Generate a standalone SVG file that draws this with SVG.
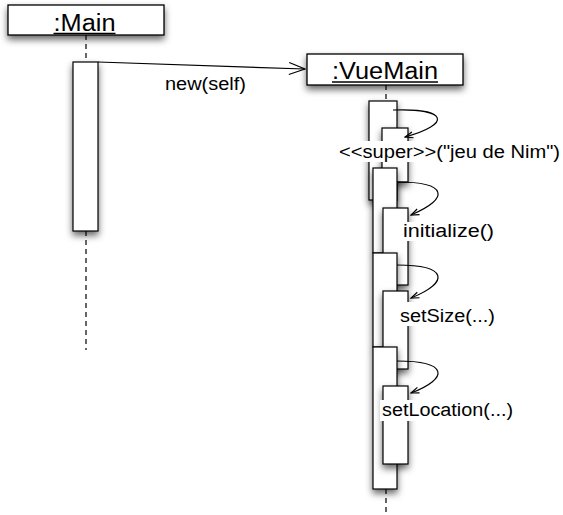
<svg xmlns="http://www.w3.org/2000/svg" width="563" height="515" viewBox="0 0 563 515">
<style>
.box{fill:#fff;stroke:#000;stroke-width:1.3}
.act{fill:#fff;stroke:#000;stroke-width:1.2}
.life{stroke:#000;stroke-width:1.2;stroke-dasharray:5 4;fill:none}
.conn{fill:none;stroke:#000;stroke-width:1.2}
.hdr{font-family:"Liberation Sans",Arial,sans-serif;font-size:23px;fill:#000}
.lbl{font-family:"Liberation Sans",Arial,sans-serif;font-size:18px;fill:#000}
.ul{stroke:#000;stroke-width:1.3}
.bg{fill:#fff}
</style>
<defs>
<filter id="sh" x="-50%" y="-50%" width="200%" height="200%">
<feDropShadow dx="0" dy="4" stdDeviation="3.5" flood-color="#000" flood-opacity="0.6"/>
</filter>
<marker id="open" viewBox="0 0 18 14" refX="17" refY="7" markerWidth="18" markerHeight="14" markerUnits="userSpaceOnUse" orient="auto">
<path d="M1,1 L17,7 L1,13" fill="none" stroke="#000" stroke-width="1.2"/>
</marker>
<marker id="small" viewBox="0 0 10 8" refX="9" refY="4" markerWidth="10" markerHeight="8" markerUnits="userSpaceOnUse" orient="auto">
<path d="M1,1 L9,4 L1,7" fill="none" stroke="#000" stroke-width="1.2"/>
</marker>
</defs>

<g id="main">
<line class="life" x1="86" y1="35" x2="86" y2="62"/>
<line class="life" x1="86" y1="231" x2="86" y2="350"/>
<rect class="box" x="8" y="5" width="156" height="30" filter="url(#sh)"/>
<text class="hdr" x="53.5" y="31" textLength="62" lengthAdjust="spacingAndGlyphs">:Main</text>
<line class="ul" x1="53.5" y1="33.5" x2="115.5" y2="33.5"/>
<rect id="main-act" class="act" x="73" y="62" width="25" height="169" filter="url(#sh)"/>
</g>

<g id="vuemain">
<line class="life" x1="386" y1="85" x2="386" y2="101"/>
<line class="life" x1="386" y1="489" x2="386" y2="515"/>
<rect class="box" x="307" y="54" width="156" height="31" filter="url(#sh)"/>
<text class="hdr" x="332" y="79" textLength="106" lengthAdjust="spacingAndGlyphs">:VueMain</text>
<line class="ul" x1="332" y1="82" x2="438" y2="82"/>
</g>

<g id="activations">
<rect id="actA" class="act" x="369" y="101" width="28" height="99" filter="url(#sh)"/>
<rect id="actB" class="act" x="382" y="128" width="26" height="54" filter="url(#sh)"/>
<rect id="actC" class="act" x="373" y="168" width="24" height="85" filter="url(#sh)"/>
<rect id="actD" class="act" x="383" y="208" width="25" height="77" filter="url(#sh)"/>
<rect id="actE" class="act" x="373" y="253" width="24" height="94" filter="url(#sh)"/>
<rect id="actG" class="act" x="383" y="291" width="25" height="78" filter="url(#sh)"/>
<rect id="actF" class="act" x="373" y="347" width="24" height="142" filter="url(#sh)"/>
<rect id="actH" class="act" x="383" y="386" width="25" height="78" filter="url(#sh)"/>
</g>

<g id="connectors">
<path class="conn" d="M98,62 L305,69" marker-end="url(#open)"/>
<path class="conn" d="M393,110 C448,108 452,124 405,137" marker-end="url(#small)"/>
<path class="conn" d="M397,182 C448,182 450,198 411,215" marker-end="url(#small)"/>
<path class="conn" d="M397,265 C448,265 450,282 411,298" marker-end="url(#small)"/>
<path class="conn" d="M397,361 C448,361 450,378 411,393" marker-end="url(#small)"/>
</g>

<g id="labels">
<text class="lbl" x="165" y="90" textLength="81" lengthAdjust="spacingAndGlyphs">new(self)</text>
<rect class="bg" x="337" y="141" width="225" height="21"/>
<text class="lbl" x="339" y="158" textLength="221" lengthAdjust="spacingAndGlyphs">&lt;&lt;super&gt;&gt;("jeu de Nim")</text>
<rect class="bg" x="399" y="222" width="100" height="19"/>
<text class="lbl" x="403" y="237" textLength="91" lengthAdjust="spacingAndGlyphs">initialize()</text>
<rect class="bg" x="397" y="302" width="102" height="24"/>
<text class="lbl" x="400" y="322" textLength="95" lengthAdjust="spacingAndGlyphs">setSize(...)</text>
<rect class="bg" x="380" y="400" width="136" height="21"/>
<text class="lbl" x="382" y="416" textLength="131" lengthAdjust="spacingAndGlyphs">setLocation(...)</text>
</g>
</svg>
